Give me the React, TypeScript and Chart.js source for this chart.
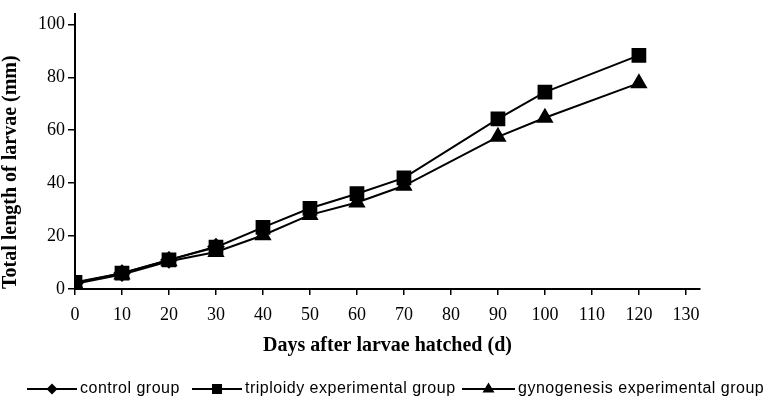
import React, { useEffect, useRef } from 'react';
import { Chart, registerables } from 'chart.js';
Chart.register(...registerables);

const days = [0, 10, 20, 30, 40, 50, 60, 70, 90, 100, 120];
const controlDays = [0, 10, 20, 30];
const control = [2.3, 6, 11, 16];
const triploidy = [2.5, 6, 11, 15.8, 23.3, 30.5, 36, 42, 64.3, 74.4, 88.3];
const gynogenesis = [2, 5.5, 10.5, 14, 20.3, 28, 32.7, 39, 57.5, 64.7, 77.8];
const xTickValues = [0, 10, 20, 30, 40, 50, 60, 70, 80, 90, 100, 110, 120, 130];
const yTickValues = [0, 20, 40, 60, 80, 100];
const legendLabels = ['control group', 'triploidy experimental group', 'gynogenesis experimental group'];

const toPoints = (xs: number[], ys: number[]) => xs.map((x, i) => ({ x, y: ys[i] }));

const legendPlugin = {
  id: 'customLegend',
  afterDraw(chart: any) {
    const ctx = chart.ctx as CanvasRenderingContext2D;
    const lineStarts = [27, 192, 462];
    const lineEnds = [77, 242, 515];
    const textStarts = [80, 245, 518];
    const styles = ['diamond', 'square', 'triangle'];
    const lineY = 389;
    ctx.save();
    ctx.strokeStyle = '#000';
    ctx.fillStyle = '#000';
    ctx.lineWidth = 2;
    ctx.font = '16px "Liberation Sans", Arial, sans-serif';
    (ctx as any).letterSpacing = '0.5px';
    ctx.textBaseline = 'alphabetic';
    ctx.textAlign = 'left';
    legendLabels.forEach((label, i) => {
      const x0 = lineStarts[i];
      const x1 = lineEnds[i];
      ctx.beginPath();
      ctx.moveTo(x0, lineY);
      ctx.lineTo(x1, lineY);
      ctx.stroke();
      const cx = (x0 + x1) / 2;
      ctx.beginPath();
      if (styles[i] === 'diamond') {
        ctx.moveTo(cx, lineY - 5.5);
        ctx.lineTo(cx + 5.5, lineY);
        ctx.lineTo(cx, lineY + 5.5);
        ctx.lineTo(cx - 5.5, lineY);
      } else if (styles[i] === 'square') {
        ctx.rect(cx - 5, lineY - 5, 10, 10);
      } else {
        ctx.moveTo(cx, lineY - 6.5);
        ctx.lineTo(cx + 6, lineY + 3.5);
        ctx.lineTo(cx - 6, lineY + 3.5);
      }
      ctx.closePath();
      ctx.fill();
      ctx.fillText(label, textStarts[i], 393);
    });
    ctx.restore();
  },
};

const serif = '"Liberation Serif", "Times New Roman", serif';

export default function App() {
  const ref = useRef<HTMLCanvasElement | null>(null);
  useEffect(() => {
    document.body.style.margin = '0';
    const canvas = ref.current!;
    const common = {
      borderColor: '#000',
      backgroundColor: '#000',
      pointBorderColor: '#000',
      pointBackgroundColor: '#000',
      borderWidth: 2,
      tension: 0,
    };
    const chart = new Chart(canvas, {
      type: 'line',
      data: {
        datasets: [
          { ...common, label: legendLabels[0], data: toPoints(controlDays, control), pointStyle: 'rectRot', pointRadius: 7.5 },
          { ...common, label: legendLabels[1], data: toPoints(days, triploidy), pointStyle: 'rect', pointRadius: 9 },
          { ...common, label: legendLabels[2], data: toPoints(days, gynogenesis), pointStyle: 'triangle', pointRadius: 8 },
        ],
      },
      options: {
        animation: false,
        responsive: false,
        devicePixelRatio: 1,
        layout: { padding: { left: 0, right: 73, top: 12, bottom: 40 } },
        plugins: { legend: { display: false }, tooltip: { enabled: false } },
        scales: {
          x: {
            type: 'linear',
            min: 0,
            max: 133,
            afterFit: (s: any) => { s.height = 67; },
            afterBuildTicks: (s: any) => { s.ticks = xTickValues.map((v) => ({ value: v })); },
            grid: { drawOnChartArea: false, drawTicks: true, tickLength: 6, color: '#000', lineWidth: 1.5 },
            border: { display: true, color: '#000', width: 2 },
            ticks: { color: '#000', font: { family: serif, size: 18 }, padding: 9, maxRotation: 0, autoSkip: false },
            title: {
              display: true,
              text: 'Days after larvae hatched (d)',
              color: '#000',
              font: { family: serif, size: 20, weight: 'bold', lineHeight: 1 },
              padding: { top: 0, bottom: 0 },
            },
          },
          y: {
            type: 'linear',
            min: 0,
            max: 104,
            afterFit: (s: any) => { s.width = 75; },
            afterBuildTicks: (s: any) => { s.ticks = yTickValues.map((v) => ({ value: v })); },
            grid: { drawOnChartArea: false, drawTicks: true, tickLength: 7, color: '#000', lineWidth: 1.5 },
            border: { display: true, color: '#000', width: 2 },
            ticks: { color: '#000', font: { family: serif, size: 18 }, padding: 3, autoSkip: false },
            title: {
              display: true,
              text: 'Total length of larvae (mm)',
              align: 'start',
              color: '#000',
              font: { family: serif, size: 20, weight: 'bold', lineHeight: 1 },
              padding: { top: 1, bottom: 0 },
            },
          },
        },
      },
      plugins: [legendPlugin],
    } as any);
    return () => chart.destroy();
  }, []);
  return <canvas ref={ref} width={773} height={396} style={{ display: 'block', width: 773, height: 396 }} />;
}
